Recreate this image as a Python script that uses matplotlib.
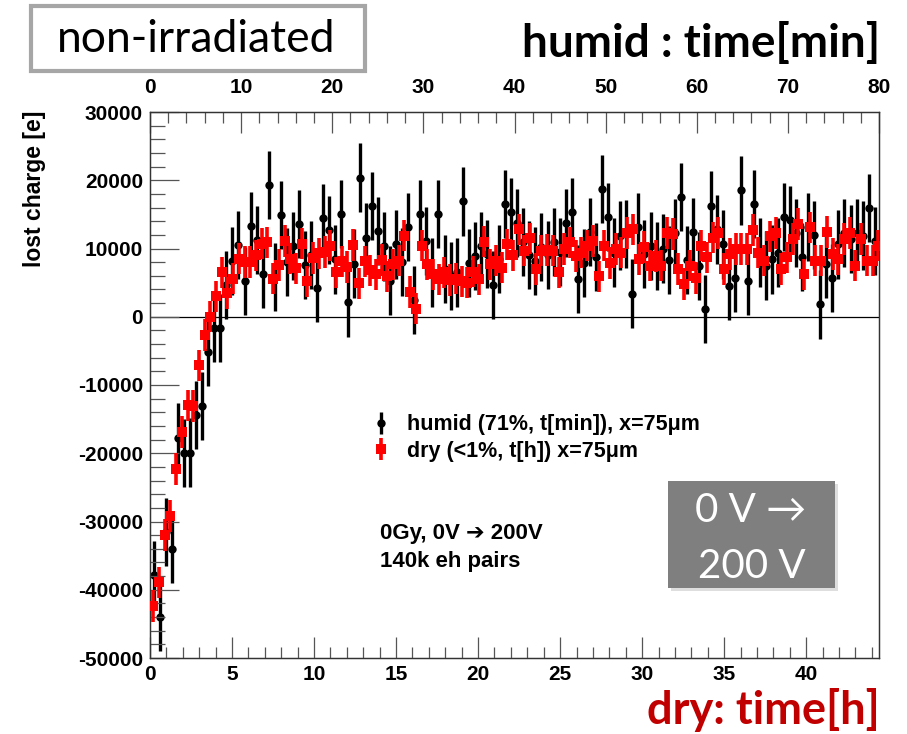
import numpy as np
import matplotlib
matplotlib.use("Agg")
import matplotlib.pyplot as plt
from matplotlib.patches import Rectangle
from matplotlib.ticker import MultipleLocator

# humid run: one point every ~40 s (top axis, minutes)
humid_start, humid_step = 0.4, 0.665
humid_q = [-37900, -44000, -31500, -34000, -17700, -20000, -19900, -14400, -13100, -5200,
           -1700, -1700, 4600, 8200, 10500, 5200, 13300, 11200, 6300, 19300,
           5800, 14900, 8000, 10400, 13600, 7600, 9000, 4200, 14400, 12700,
           8400, 15100, 2100, 7800, 20400, 11600, 16200, 12600, 10300, 5300,
           10600, 8000, 13200, 2400, 15100, 11100, 6500, 15100, 7000, 6000,
           6500, 16900, 7900, 8900, 10400, 9200, 4700, 8500, 16500, 15400,
           13700, 11000, 9000, 8200, 10200, 9000, 11000, 9500, 13700, 15300,
           5500, 7900, 12400, 8800, 18700, 14600, 9400, 11900, 12100, 3400,
           13100, 9200, 10400, 8900, 10000, 8300, 12300, 17600, 8300, 12400,
           7400, 1100, 16300, 12800, 10600, 4500, 5700, 18500, 5300, 16500,
           9400, 7500, 8400, 9400, 14600, 14200, 12300, 8800, 13100, 12000,
           1800, 7700, 5700, 10600, 12300, 11400, 12300, 11900, 15900, 11100]
humid_err = 5000

# dry run: one point every ~21 min (bottom axis, hours)
dry_start, dry_step = 0.2, 0.348
dry_q = [-42400, -38900, -32000, -29200, -22300, -16900, -13000, -13100, -7100, -2700,
         0, 3000, 6500, 3500, 5600, 8500, 8000, 8000, 9000, 10700,
         10900, 5600, 7600, 11100, 8500, 7100, 10700, 5200, 8600, 9300,
         9500, 10400, 6500, 8100, 7300, 10500, 4900, 8100, 6800, 6200,
         8300, 5900, 7700, 8200, 11900, 3600, 1200, 10400, 7700, 6200,
         5500, 6500, 5400, 5600, 5200, 5000, 6600, 5500, 11000, 7700,
         8200, 7200, 10600, 9000, 12800, 9700, 11500, 7000, 9700, 9800,
         9700, 6500, 9900, 10900, 8900, 9400, 10400, 11100, 5900, 10400,
         7900, 9900, 9400, 12300, 12800, 8400, 10200, 7500, 8900, 7500,
         12300, 12100, 7000, 4800, 7500, 5700, 10400, 8700, 11600, 12300,
         7000, 9200, 9900, 9900, 9900, 12700, 9400, 8200, 11800, 12300,
         7000, 8700, 11400, 13600, 6200, 13100, 8200, 8200, 12400, 9200,
         8400, 11400, 12300, 7500, 11400, 8200, 8200, 10400]
dry_err = 2300

humid_t = humid_start + humid_step * np.arange(len(humid_q))
dry_t = dry_start + dry_step * np.arange(len(dry_q))

W, H = 907, 734
fig = plt.figure(figsize=(W / 100, H / 100), dpi=100)
fig.patch.set_facecolor("white")

def fx(px):
    return px / W

def fy(py):
    return 1 - py / H

ax = fig.add_axes([fx(150), fy(658), (879 - 150) / W, (658 - 112) / H])
ax2 = ax.twiny()
ax.set_zorder(2)
ax2.set_zorder(1)
ax.patch.set_visible(False)

tickfont = dict(family="Liberation Sans", weight="bold", size=15)

# dry (hours) on the bottom axis
ax.set_xlim(0, 44.44)
ax.set_ylim(-50000, 30000)
ax.axhline(0, color="black", lw=0.9, zorder=1)
eb_dry = ax.errorbar(dry_t, dry_q, yerr=dry_err, fmt="s", color="#ff0000", ms=7.5,
                     mew=0, elinewidth=2.6, capsize=0, zorder=3)

# humid (minutes) on the top axis
ax2.set_xlim(0, 80)
eb_hum = ax2.errorbar(humid_t, humid_q, yerr=humid_err, fmt="o", color="black", ms=6,
                      mew=0, elinewidth=2.4, capsize=0, zorder=2)

ax.xaxis.set_minor_locator(MultipleLocator(1))
ax.yaxis.set_minor_locator(MultipleLocator(2000))
ax2.xaxis.set_minor_locator(MultipleLocator(2))

ax.tick_params(axis="both", which="major", direction="in", length=15, width=0.9, color="#555555")
ax.tick_params(axis="both", which="minor", direction="in", length=8, width=0.9, color="#555555")
ax.tick_params(axis="y", which="major", length=21, pad=5)
ax.tick_params(axis="y", which="minor", length=11)
ax.tick_params(axis="x", pad=5)
ax.tick_params(right=False, top=False)
ax2.tick_params(axis="x", which="major", direction="in", length=15, width=0.9, color="#555555", pad=11)
ax2.tick_params(axis="x", which="minor", direction="in", length=8, width=0.9, color="#555555")

ax.set_xticks(np.arange(0, 41, 5))
ax.set_xticklabels([str(v) for v in range(0, 41, 5)], **tickfont)
ax.set_yticks(np.arange(-50000, 30001, 10000))
ax.set_yticklabels([str(v) for v in range(-50000, 30001, 10000)], **tickfont)
ax2.set_xticks(np.arange(0, 81, 10))
ax2.set_xticklabels([str(v) for v in range(0, 81, 10)], **tickfont)

for a in (ax, ax2):
    for s in a.spines.values():
        s.set_color("#333333")
        s.set_linewidth(0.9)

fig.text(fx(35), fy(111), "lost charge [e]", rotation=90, ha="center", va="top",
         family="Liberation Sans", weight="bold", size=16.5)

leg = ax.legend([eb_hum, eb_dry], ["humid (71%, t[min]), x=75\u03bcm", "dry (<1%, t[h]) x=75\u03bcm"],
                loc="upper left", bbox_to_anchor=((352 - 150) / 729, (658 - 395) / 546),
                frameon=False, handlelength=0.9, handletextpad=0.75, labelspacing=0.25,
                prop=dict(family="Liberation Sans", weight="bold", size=15.5))

fig.text(fx(380), fy(533), "0Gy, 0V \u2794 200V", ha="left", va="center",
         family=["Liberation Sans", "DejaVu Sans"], weight="bold", size=16)
fig.text(fx(380), fy(562), "140k eh pairs", ha="left", va="center",
         family="Liberation Sans", weight="bold", size=16)

# grey voltage box with a soft shadow
fig.patches.append(Rectangle((fx(671), fy(591)), 167 / W, 107 / H, transform=fig.transFigure,
                             facecolor="#c8c8c8", edgecolor="none", alpha=0.6, zorder=4))
fig.patches.append(Rectangle((fx(668), fy(588)), 167 / W, 107 / H, transform=fig.transFigure,
                             facecolor="#7f7f7f", edgecolor="none", zorder=5))
fig.text(fx(751), fy(511), "0 V \u2192", ha="center", va="center", color="white",
         family=["Lato", "DejaVu Sans"], size=29, zorder=6)
fig.text(fx(752), fy(566), "200 V", ha="center", va="center", color="white",
         family="Lato", size=29, zorder=6)

# title boxes
fig.patches.append(Rectangle((fx(31), fy(71)), 334 / W, 65 / H, transform=fig.transFigure,
                             facecolor="white", edgecolor="#a6a6a6", lw=3, zorder=5))
fig.text(fx(196), fy(40), "non-irradiated", ha="center", va="center", color="black",
         family="Lato", size=32, zorder=6)
fig.text(fx(880), fy(44), "humid : time[min]", ha="right", va="center", color="black",
         family="Lato", weight="bold", size=33)
fig.text(fx(880), fy(710), "dry: time[h]", ha="right", va="center", color="#c00000",
         family="Lato", weight="bold", size=32.5)

fig.savefig("out.png", dpi=100, facecolor="white")
